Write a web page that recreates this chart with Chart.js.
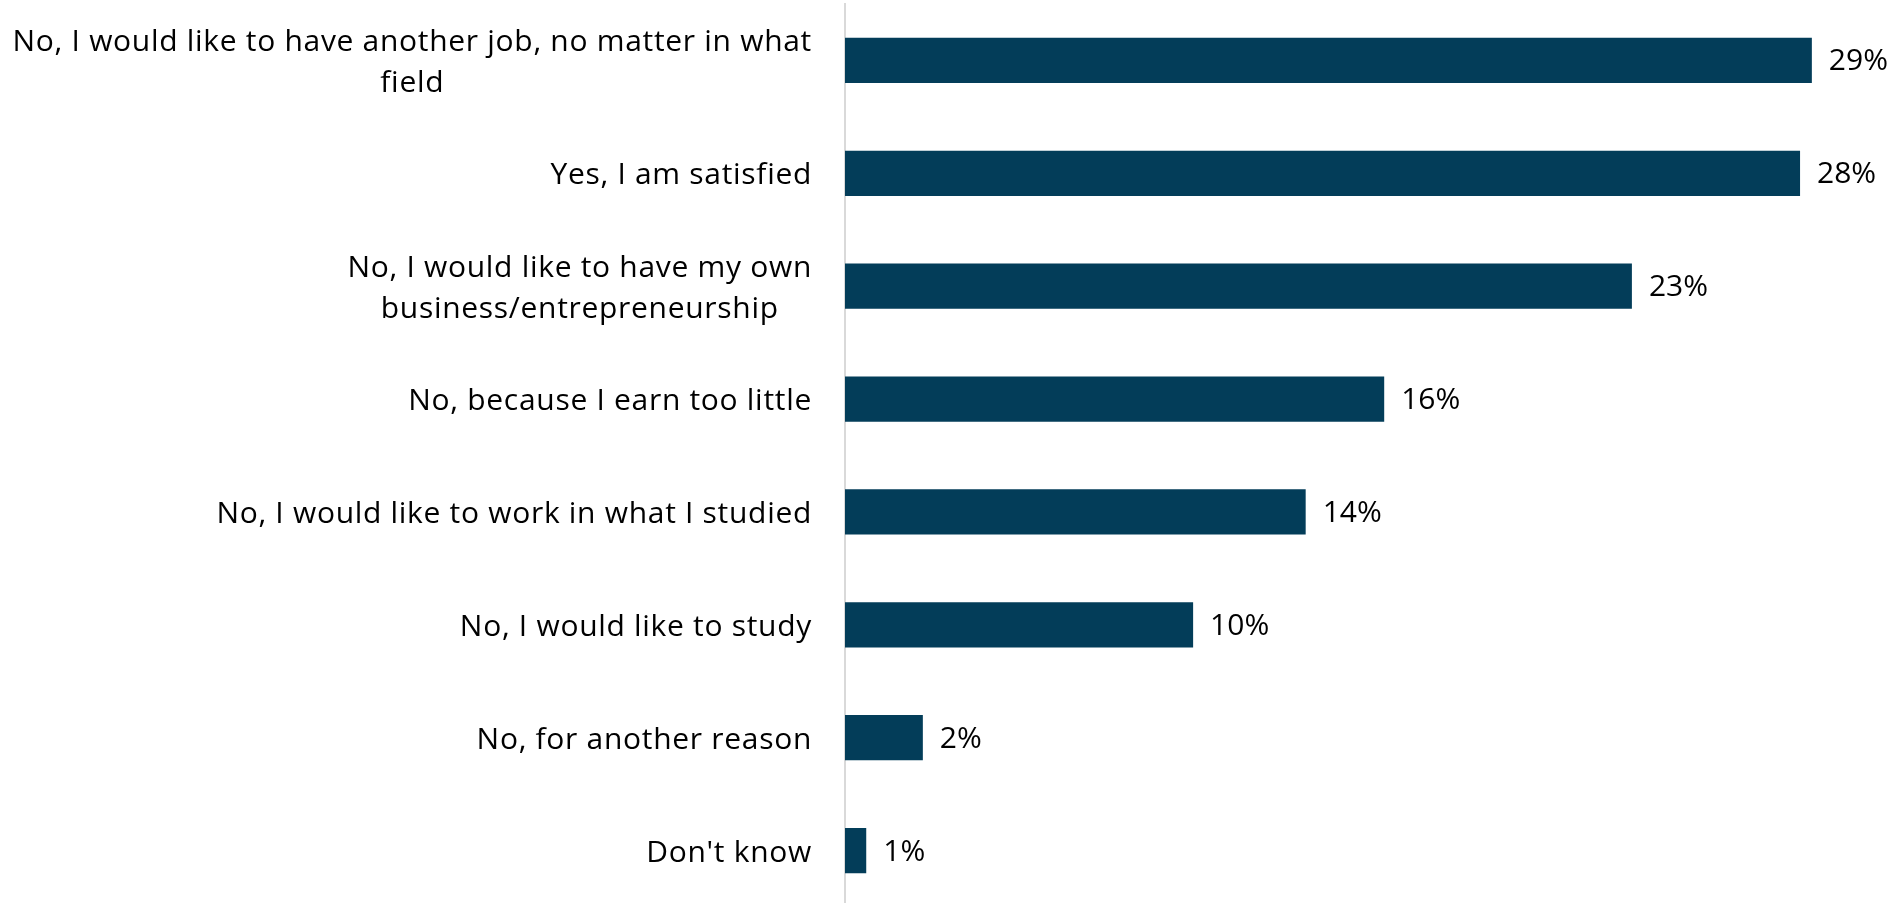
<!DOCTYPE html>
<html>
<head>
<meta charset="utf-8">
<script src="https://cdn.jsdelivr.net/npm/chart.js@4/dist/chart.umd.min.js"></script>
<style>
  html, body { margin: 0; padding: 0; background: #ffffff; overflow: hidden; }
  #wrap { position: relative; width: 1904px; height: 907px; }
</style>
</head>
<body>
<div id="wrap"><canvas id="chart"></canvas></div>
<script>
const categories = [
  ["No, I would like to have another job, no matter in what", "field"],
  "Yes, I am satisfied",
  ["No, I would like to have my own", "business/entrepreneurship"],
  "No, because I earn too little",
  "No, I would like to work in what I studied",
  "No, I would like to study",
  "No, for another reason",
  "Don't know"
];
const shares = [28.69, 28.34, 23.35, 16.0, 13.67, 10.33, 2.31, 0.63];
const shareLabels = shares.map(v => Math.round(v) + '%');

const LABEL_RIGHT = 812;
const LINE_STEP = 41;
const LABEL_DY = 2.5;

const labelPlugin = {
  id: 'labels',
  afterDatasetsDraw(chart) {
    const ctx = chart.ctx;
    const yScale = chart.scales.y;
    const meta = chart.getDatasetMeta(0);

    // category labels: block right-aligned, lines centred within block
    ctx.save();
    ctx.font = '30px "Open Sans"';
    ctx.fillStyle = '#000000';
    ctx.textAlign = 'center';
    ctx.textBaseline = 'middle';
    if ('letterSpacing' in ctx) ctx.letterSpacing = '0.7px';
    chart.data.labels.forEach((lab, i) => {
      const lines = Array.isArray(lab) ? lab : [lab];
      const w = Math.max(...lines.map(l => ctx.measureText(l).width));
      const cx = LABEL_RIGHT - w / 2;
      const cy = yScale.getPixelForTick(i) + LABEL_DY;
      lines.forEach((l, j) => {
        ctx.fillText(l, cx, cy + (j - (lines.length - 1) / 2) * LINE_STEP);
      });
    });
    ctx.restore();

    // value labels
    ctx.save();
    ctx.font = '30px "Open Sans"';
    ctx.fillStyle = '#000000';
    ctx.textAlign = 'left';
    ctx.textBaseline = 'middle';
    meta.data.forEach((bar, i) => {
      ctx.fillText(shareLabels[i], bar.x + 17, bar.y + 1.5);
    });
    ctx.restore();
  }
};

new Chart(document.getElementById('chart'), {
  type: 'bar',
  data: {
    labels: categories,
    datasets: [{
      data: shares,
      backgroundColor: '#033D59',
      borderWidth: 0,
      barPercentage: 0.4,
      categoryPercentage: 1.0
    }]
  },
  options: {
    indexAxis: 'y',
    responsive: true,
    maintainAspectRatio: false,
    animation: false,
    layout: { padding: { top: 4, right: 48, left: 0, bottom: 0 } },
    plugins: { legend: { display: false }, tooltip: { enabled: false } },
    scales: {
      x: { display: false, min: 0, max: 30 },
      y: {
        afterFit(scale) {
          scale.width = 845;
          scale.paddingTop = 0;
          scale.paddingBottom = 0;
        },
        grid: { display: false, drawTicks: false },
        border: { display: true, color: '#D9D9D9', width: 2 },
        ticks: { display: false }
      }
    }
  },
  plugins: [labelPlugin]
});
</script>
</body>
</html>
